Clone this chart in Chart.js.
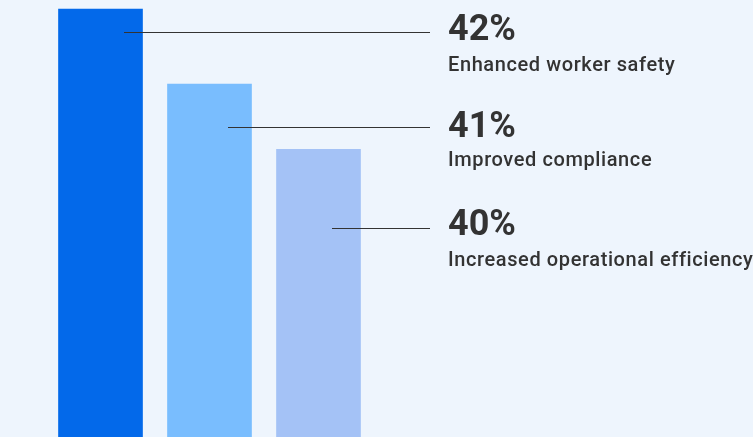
<!DOCTYPE html>
<html>
<head>
<meta charset="utf-8">
<script src="https://cdn.jsdelivr.net/npm/chart.js@4"></script>
<style>
  html, body { margin: 0; padding: 0; background: #EEF5FD; }
  #wrap { width: 753px; height: 437px; position: relative; }
</style>
</head>
<body>
<div id="wrap"><canvas id="c" width="753" height="437"></canvas></div>
<script>
// Data
const categories = ["Enhanced worker safety", "Improved compliance", "Increased operational efficiency"];
const values = [42, 41, 40.13];
const percentLabels = ["42%", "41%", "40%"];
const barColors = ["#0369EA", "#79BDFE", "#A4C2F6"];

// Annotation layout (leader line y, text baselines, line start offset from bar centre)
const leaderY = [32, 127, 228];
const bigBaseline = [39.5, 137, 235];
const smallBaseline = [71, 166, 266];
const leaderStartOffset = [23, 18, 13];
const textX = 448;
const leaderEndX = 430;

const annotations = {
  id: 'annotations',
  afterDatasetsDraw(chart) {
    const ctx = chart.ctx;
    const meta = chart.getDatasetMeta(0);
    ctx.save();
    meta.data.forEach((bar, i) => {
      const x0 = Math.round(bar.x + leaderStartOffset[i]);
      const y = Math.round(leaderY[i]) + 0.5;
      ctx.beginPath();
      ctx.strokeStyle = '#333333';
      ctx.lineWidth = 1;
      ctx.moveTo(x0, y);
      ctx.lineTo(leaderEndX, y);
      ctx.stroke();
      ctx.fillStyle = '#333333';
      ctx.textBaseline = 'alphabetic';
      ctx.textAlign = 'left';
      ctx.font = 'bold 36px Roboto';
      ctx.fillText(percentLabels[i], textX, bigBaseline[i]);
      ctx.font = '500 20px Roboto';
      ctx.letterSpacing = '0.6px';
      ctx.fillText(categories[i], textX, smallBaseline[i]);
      ctx.letterSpacing = '0px';
    });
    ctx.restore();
  }
};

new Chart(document.getElementById('c'), {
  type: 'bar',
  data: {
    labels: categories,
    datasets: [{
      data: values,
      backgroundColor: barColors,
      borderWidth: 0,
      barThickness: 84
    }]
  },
  options: {
    responsive: false,
    animation: false,
    layout: { padding: { left: 46, right: 380, top: 0, bottom: 0 } },
    plugins: { legend: { display: false }, tooltip: { enabled: false } },
    scales: {
      x: { display: false },
      y: { display: false, min: 36.293, max: 42.12 }
    }
  },
  plugins: [annotations]
});
</script>
</body>
</html>
